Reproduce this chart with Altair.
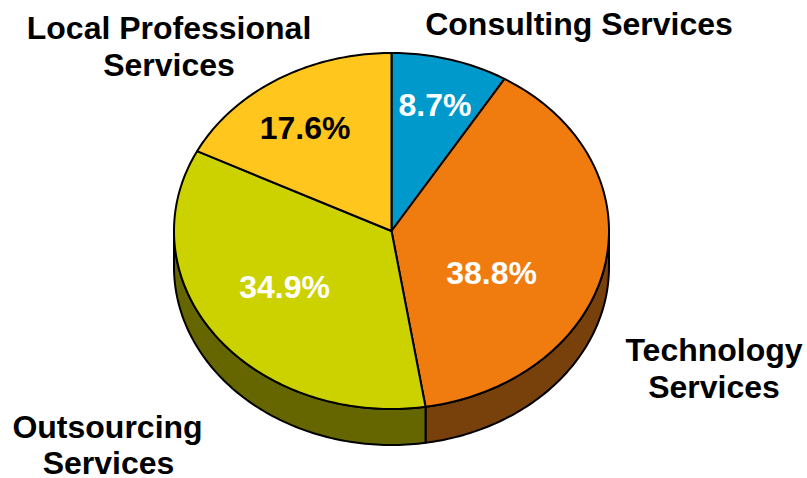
import math
import altair as alt
import pandas as pd

# Service mix, clockwise from twelve o'clock
services = ["Consulting", "Technology", "Outsourcing", "Local Professional"]
shares = [8.7, 38.8, 34.9, 17.6]
top_colors = ["#0099CC", "#F07C10", "#CCD200", "#FFC61E"]
side_colors = ["#004C66", "#78400A", "#666600", "#806310"]
share_label_colors = ["white", "white", "white", "black"]

# Pie geometry, in chart pixels
WIDTH, HEIGHT = 807, 478
CX, CY, RX, RY, DEPTH = 391.5, 231, 217.5, 178, 36
STEP = 1.0


def point(angle_deg, drop=0.0):
    a = math.radians(angle_deg)
    return CX + RX * math.sin(a), CY - RY * math.cos(a) + drop


def arc(start, end):
    n = max(2, int((end - start) / STEP) + 1)
    return [start + (end - start) * i / (n - 1) for i in range(n)]


top_rows, side_rows = [], []
start = 0.0
for name, share in zip(services, shares):
    end = start + share / sum(shares) * 360
    outline = [(CX, CY)] + [point(a) for a in arc(start, end)] + [(CX, CY)]
    for i, (x, y) in enumerate(outline):
        top_rows.append({"slice": name, "i": i, "x": x, "y": y})
    # Only the part of the rim facing the viewer (90 to 270 degrees) has a visible wall
    lo, hi = max(start, 90), min(end, 270)
    if lo < hi:
        angles = arc(lo, hi)
        wall = [point(a) for a in angles] + [point(a, DEPTH) for a in reversed(angles)]
        wall.append(wall[0])
        for i, (x, y) in enumerate(wall):
            side_rows.append({"slice": name, "i": i, "x": x, "y": y})
    start = end

x_scale = alt.Scale(domain=[0, WIDTH], range=[0, WIDTH])
y_scale = alt.Scale(domain=[0, HEIGHT], range=[0, HEIGHT])


def polygon(rows, colors):
    layers = []
    frame = pd.DataFrame(rows)
    for name, color in zip(services, colors):
        part = frame[frame["slice"] == name]
        if part.empty:
            continue
        layers.append(
            alt.Chart(part)
            .mark_line(fill=color, stroke="black", strokeWidth=2, strokeJoin="round", clip=False)
            .encode(
                x=alt.X("x:Q", scale=x_scale, axis=None),
                y=alt.Y("y:Q", scale=y_scale, axis=None),
                order="i:Q",
            )
        )
    return layers


# Percentages sit on the slices, category names around the pie
pct = pd.DataFrame({
    "text": [f"{s:.1f}%" for s in shares],
    "x": [435, 491.5, 284.5, 305],
    "y": [106, 274, 288, 129],
    "color": share_label_colors,
})
names = pd.DataFrame({
    "text": ["Consulting Services", "Technology", "Services", "Outsourcing", "Services",
             "Local Professional", "Services"],
    "x": [579, 714, 714, 107.5, 108.5, 169, 169],
    "y": [25, 351, 388, 428, 464, 29, 66],
})

font = dict(font="Liberation Sans", fontWeight="bold", fontSize=32, align="center", baseline="middle")
pct_layer = alt.Chart(pct).mark_text(**font).encode(
    x=alt.X("x:Q", scale=x_scale, axis=None),
    y=alt.Y("y:Q", scale=y_scale, axis=None),
    text="text:N",
    color=alt.Color("color:N", scale=None),
)
name_layer = alt.Chart(names).mark_text(color="black", **font).encode(
    x=alt.X("x:Q", scale=x_scale, axis=None),
    y=alt.Y("y:Q", scale=y_scale, axis=None),
    text="text:N",
)

chart = alt.layer(
    *polygon(side_rows, side_colors),
    *polygon(top_rows, top_colors),
    pct_layer,
    name_layer,
).properties(width=WIDTH, height=HEIGHT, padding=0, background="white").configure_view(stroke=None)

chart.save("out.html", embed_options={"renderer": "svg", "actions": False})
